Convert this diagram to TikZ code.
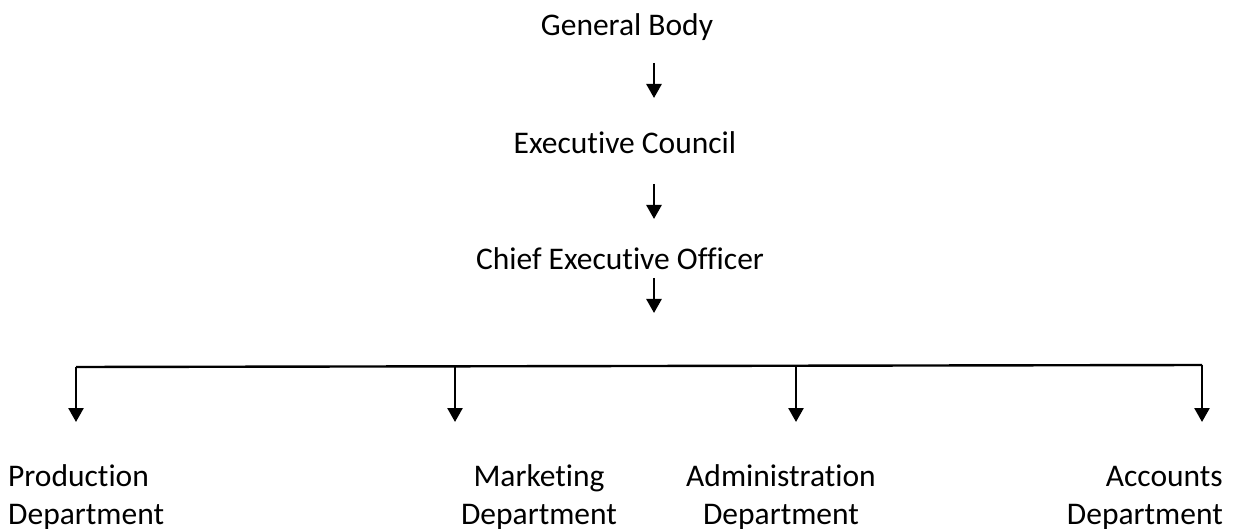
\documentclass[tikz,border=0pt]{standalone}
\usepackage{fontspec}
\setmainfont{Carlito}[Ligatures=NoCommon]
\usetikzlibrary{arrows.meta}

\begin{document}
\begin{tikzpicture}[x=1pt,y=-1pt]
                \useasboundingbox (0,0) rectangle (1234,529);
                \tikzstyle{lbl}=[inner sep=0pt, font=\fontsize{31.5}{38}\selectfont]
                \node[lbl, anchor=base] (GB) at (627,36) {General Body};
                \node[lbl, anchor=base] (EC) at (625,154) {Executive Council};
                \node[lbl, anchor=base] (CEO) at (620,270) {Chief Executive Officer};
                \node[lbl, anchor=base west, align=left] (PD) at (8,524) {Production\\Department};
                \node[lbl, anchor=base, align=center] (MD) at (539,524) {Marketing\\Department};
                \node[lbl, anchor=base, align=center] (AD) at (781,524) {Administration\\Department};
                \node[lbl, anchor=base east, align=right] (CD) at (1223,524) {Accounts\\Department};

                \tikzstyle{bind}=[-{Triangle[width=15pt,length=14pt]}, line width=2.6pt]

                \coordinate (S1) at (654,63);  \coordinate (E1) at (654,98);
                \coordinate (S2) at (654,184); \coordinate (E2) at (654,219);
                \coordinate (S3) at (654,278); \coordinate (E3) at (654,313);
                \draw[bind] (S1) -- (E1);
                \draw[bind] (S2) -- (E2);
                \draw[bind] (S3) -- (E3);

                \coordinate (T1) at (76,367);   \coordinate (D1) at (76,422);
                \coordinate (T2) at (455,366.3); \coordinate (D2) at (455,422);
                \coordinate (T3) at (796,365.7); \coordinate (D3) at (796,422);
                \coordinate (T4) at (1202,365); \coordinate (D4) at (1202,422);
                \draw[line width=2.4pt] (T1) -- (T4);
                \draw[bind] (T1) -- (D1);
                \draw[bind] (T2) -- (D2);
                \draw[bind] (T3) -- (D3);
                \draw[bind] (T4) -- (D4);
            \end{tikzpicture}
\end{document}
